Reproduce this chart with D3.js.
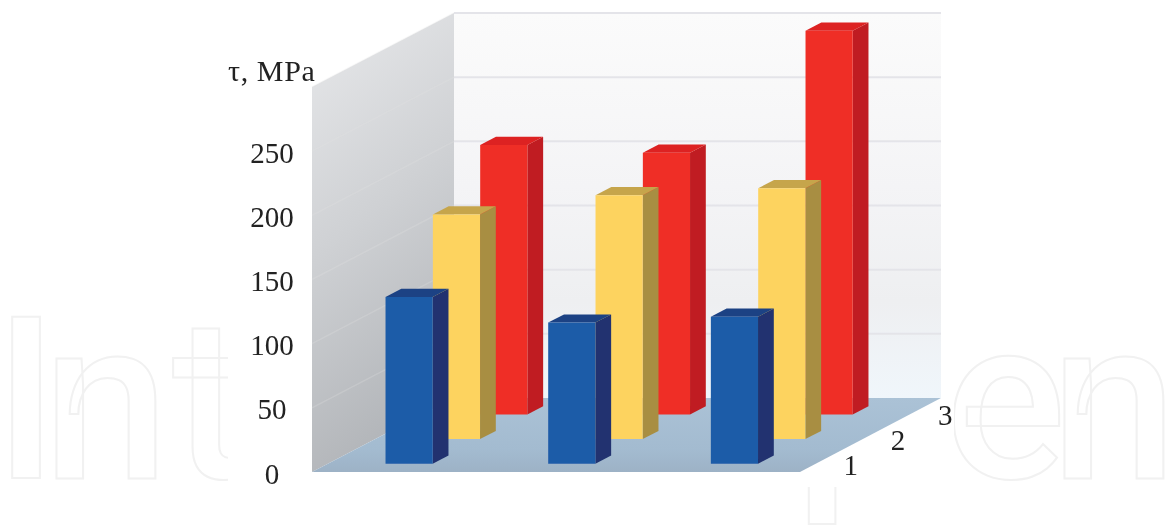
<!doctype html>
<head>
  <style>
    html, body {
      margin: 0;
      padding: 0;
      background: #fff;
    }
    svg {
      display: block;
    }
    .label text, text.label {
      font-family: "Liberation Serif", serif;
      font-size: 29px;
      fill: #222;
    }
    text.title {
      font-size: 30px;
      letter-spacing: 0.6px;
    }
    .mark {
      font-family: Roboto, sans-serif;
      font-size: 226px;
      font-weight: 500;
      fill: none;
      stroke: #f1f1f1;
      stroke-width: 2px;
    }
  </style>
  <script src="https://cdn.jsdelivr.net/npm/d3@7"></script>
</head>

<body>
  <svg id="chart" width="1165" height="526"></svg>

  <script>
    var categories = ['A', 'B', 'C'];
    var series = ['1', '2', '3'];
    var blue = [130, 110, 114.5];
    var yellow = [175, 190, 195.5];
    var red = [210, 204, 299];
    var yTicks = [0, 50, 100, 150, 200, 250];
    var gridValues = [50, 100, 150, 200, 250, 300];
    var yTitle = 'τ, MPa';

    var values = [blue, yellow, red];
    var colors = [
      {front: '#1f5ba8', side: '#20336f', top: '#1c4284'},
      {front: '#fdd35f', side: '#a88e42', top: '#c6a54c'},
      {front: '#ef2e26', side: '#c01f20', top: '#dd2020'}
    ];

    var svg = d3.select('#chart');
    var defs = svg.append('defs');

    // oblique box: front plane plus a shift for depth
    var x = d3.scaleBand().domain(categories).range([312, 800])
        .paddingInner(0.71).paddingOuter(0.355);
    var y = d3.scaleLinear().domain([0, 300]).range([472, 87]);
    var depthX = d3.scaleLinear().domain([0, 1]).range([0, 142]);
    var depthY = d3.scaleLinear().domain([0, 1]).range([0, -74]);
    var depth = d3.scaleBand().domain(series).range([0, 1])
        .paddingInner(2 / 3).paddingOuter(1 / 3);

    function pt(px, v, d) {
      return [px + depthX(d), y(v) + depthY(d)];
    }
    function poly(points) {
      return points.map(function(p) { return p.join(','); }).join(' ');
    }
    function gradient(id, x1, y1, x2, y2, stops) {
      var g = defs.append('linearGradient').attr('id', id)
          .attr('x1', x1).attr('y1', y1).attr('x2', x2).attr('y2', y2);
      stops.forEach(function(s) {
        g.append('stop').attr('offset', s[0]).attr('stop-color', s[1]);
      });
    }
    function blur(id, amount) {
      defs.append('filter').attr('id', id)
          .attr('filterUnits', 'userSpaceOnUse')
          .attr('x', 0).attr('y', 0)
          .attr('width', 1165).attr('height', 526)
        .append('feGaussianBlur').attr('stdDeviation', amount);
    }

    gradient('wall', 0, 0, 0.25, 1, [[0, '#e8e9eb'], [0.5, '#cfd1d4'], [1, '#b2b5b9']]);
    gradient('back', 0, 0, 0, 1, [[0, '#fbfbfb'], [0.45, '#f4f4f6'], [0.75, '#eeeff1'], [1, '#f0f6fb']]);
    gradient('floor', 0, 0, 0, 1, [[0, '#abc2d6'], [0.7, '#a3bbd0'], [1, '#9db2c6']]);
    blur('soft', 0.7);
    blur('softText', 0.35);

    defs.append('clipPath').attr('id', 'sides')
      .selectAll('rect').data([[0, 228], [954, 211]])
      .enter().append('rect')
        .attr('x', function(d) { return d[0]; })
        .attr('width', function(d) { return d[1]; })
        .attr('y', 0).attr('height', 526);
    defs.append('clipPath').attr('id', 'under')
      .append('rect').attr('x', 790).attr('y', 487).attr('width', 70).attr('height', 39);

    // pale watermark behind the chart
    var mark = svg.append('g').attr('class', 'mark');
    var sideMark = mark.append('g').attr('clip-path', 'url(#sides)');
    function letter(parent, s, px) {
      parent.append('text').attr('x', px).attr('y', 478).text(s);
    }
    letter(sideMark, 'I', -6);
    letter(sideMark, 'n', 43);
    letter(sideMark, 't', 172);
    letter(sideMark, 'e', 945);
    letter(sideMark, 'n', 1051);
    letter(mark.append('g').attr('clip-path', 'url(#under)'), 'p', 795);

    var chart = svg.append('g').attr('filter', 'url(#soft)');

    // walls and floor
    chart.append('polygon').attr('fill', 'url(#wall)')
        .attr('points', poly([pt(312, 0, 0), pt(312, 300, 0), pt(312, 300, 1), pt(312, 0, 1)]));
    chart.append('polygon').attr('fill', 'url(#back)')
        .attr('points', poly([pt(312, 0, 1), pt(312, 300, 1), pt(799, 300, 1), pt(799, 0, 1)]));
    chart.append('polygon').attr('fill', 'url(#floor)')
        .attr('points', poly([pt(312, 0, 0), pt(312, 0, 1), pt(799, 0, 1), pt(800, 0, 0)]));

    // gridlines on both walls
    chart.append('g').selectAll('line').data(gridValues)
      .enter().append('line')
        .attr('x1', pt(312, 0, 1)[0])
        .attr('x2', pt(799, 0, 1)[0])
        .attr('y1', function(d) { return pt(312, d, 1)[1]; })
        .attr('y2', function(d) { return pt(312, d, 1)[1]; })
        .attr('stroke', '#e4e4e9')
        .attr('stroke-width', 2);
    chart.append('g').selectAll('line').data(gridValues)
      .enter().append('line')
        .attr('x1', pt(312, 0, 0)[0])
        .attr('x2', pt(312, 0, 1)[0])
        .attr('y1', function(d) { return pt(312, d, 0)[1]; })
        .attr('y2', function(d) { return pt(312, d, 1)[1]; })
        .attr('stroke', '#e2e2e4')
        .attr('stroke-opacity', 0.25)
        .attr('stroke-width', 1.5);

    // bars, back row first so the front rows cover them
    d3.range(series.length - 1, -1, -1).forEach(function(s) {
      var row = chart.append('g');
      var d0 = depth(series[s]);
      var d1 = d0 + depth.bandwidth();
      var c = colors[s];
      var bar = row.selectAll('g').data(values[s])
        .enter().append('g');

      bar.append('polygon').attr('fill', c.side)
          .attr('points', function(v, i) {
            var r = x(categories[i]) + x.bandwidth();
            return poly([pt(r, 0, d0), pt(r, v, d0), pt(r, v, d1), pt(r, 0, d1)]);
          });
      bar.append('polygon').attr('fill', c.top)
          .attr('points', function(v, i) {
            var l = x(categories[i]);
            var r = l + x.bandwidth();
            return poly([pt(l, v, d0), pt(l, v, d1), pt(r, v, d1), pt(r, v, d0)]);
          });
      bar.append('polygon').attr('fill', c.front)
          .attr('points', function(v, i) {
            var l = x(categories[i]);
            var r = l + x.bandwidth();
            return poly([pt(l, 0, d0), pt(l, v, d0), pt(r, v, d0), pt(r, 0, d0)]);
          });
    });

    var labels = svg.append('g').attr('filter', 'url(#softText)');

    // value axis
    var axis = d3.axisLeft(y).tickValues(yTicks).tickSize(0).tickPadding(0);
    var axisG = labels.append('g')
        .attr('class', 'label')
        .attr('transform', 'translate(272,0)')
        .call(axis);
    axisG.select('.domain').remove();
    axisG.attr('font-family', null).attr('font-size', null);
    axisG.selectAll('text')
        .attr('text-anchor', 'middle')
        .attr('x', 0)
        .attr('dy', 11);

    labels.append('text').attr('class', 'label title')
        .attr('x', 228).attr('y', 81)
        .text(yTitle);

    // depth labels along the right edge of the floor
    labels.selectAll('text.depth').data(series)
      .enter().append('text')
        .attr('class', 'depth label')
        .attr('text-anchor', 'middle')
        .attr('x', function(d) { return pt(800, 0, depth(d) + depth.bandwidth() / 2)[0] + 27; })
        .attr('y', function(d) { return pt(800, 0, depth(d) + depth.bandwidth() / 2)[1] + 15; })
        .text(function(d) { return d; });
  </script>
</body>
